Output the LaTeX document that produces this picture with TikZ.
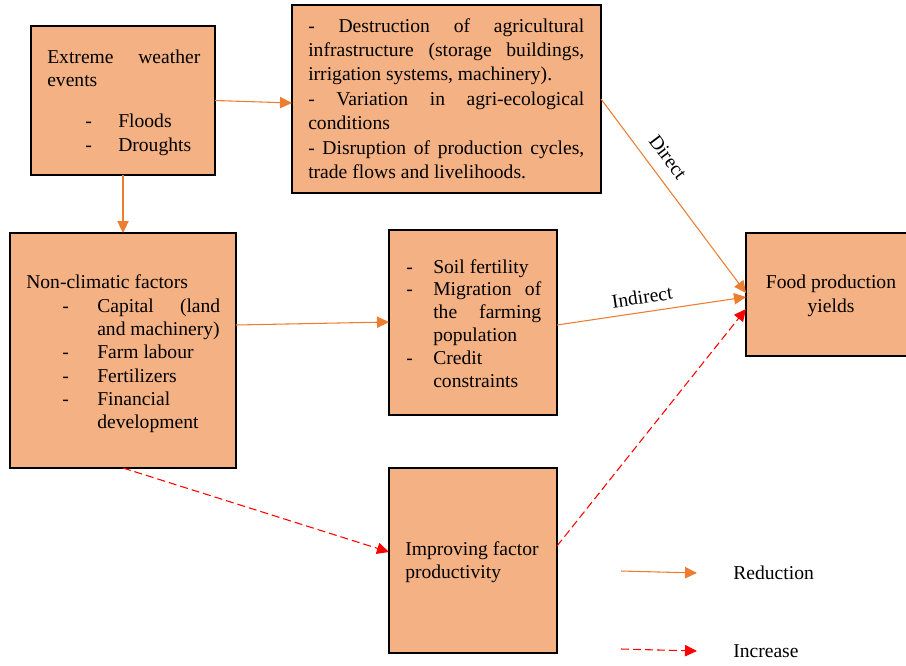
\documentclass[tikz,border=0pt]{standalone}
\usepackage{fontspec}
\setmainfont{Liberation Serif}
\usetikzlibrary{arrows.meta,calc}
\newdimen\px \px=0.75pt
\definecolor{boxfill}{HTML}{F4B183}
\definecolor{orarrow}{HTML}{ED7D31}
\definecolor{redarrow}{HTML}{FF0000}
\newcommand{\jst}[2]{\makebox[#1][s]{#2}}
\newcommand{\dsh}[1]{\makebox[#1][l]{-}}
\begin{document}
\begin{tikzpicture}[x=0.75pt,y=-0.75pt,
  box/.style={draw=black, line width=1.4pt, fill=boxfill, inner sep=0, outer sep=0, anchor=north west},
  txt/.style={anchor=base west, inner sep=0, font=\fontsize{14.7}{17.8}\selectfont},
  lbl/.style={inner sep=0, font=\fontsize{14.7}{17.8}\selectfont},
  redu/.style={draw=orarrow, line width=0.8pt, -{Triangle[length=9pt,width=8.5pt]}},
  incr/.style={draw=redarrow, line width=0.8pt, dash pattern=on 6pt off 3pt, -{Triangle[length=9pt,width=8.5pt]}}]
\useasboundingbox (0,0) rectangle (906,665);

% boxes
\node[box, minimum width=138pt, minimum height=111.75pt] (ext) at (31,26) {};
\node[box, minimum width=231.75pt, minimum height=141pt] (des) at (292,5) {};
\node[box, minimum width=121.5pt, minimum height=92.25pt] (food) at (746,233) {};
\node[box, minimum width=169.5pt, minimum height=176.25pt] (non) at (10,233) {};
\node[box, minimum width=126pt, minimum height=138.75pt] (soil) at (389,230) {};
\node[box, minimum width=126pt, minimum height=138.75pt] (imp) at (389,468) {};

% texts
\node[txt] (extT) at (47,63) {\parbox[t]{153\px}{\fontsize{14.7}{17.8}\selectfont
\jst{\linewidth}{Extreme weather}\\
events\\[13pt]
\hspace*{38\px}\dsh{33\px}Floods\\
\hspace*{38\px}\dsh{33\px}Droughts}};

\node[txt] (desT) at (308,32) {\parbox[t]{276\px}{\fontsize{14.7}{18.3}\selectfont
\jst{\linewidth}{- Destruction of agricultural}\\
\jst{\linewidth}{infrastructure (storage buildings,}\\
irrigation systems, machinery).\\
\jst{\linewidth}{- Variation in agri-ecological}\\
conditions\\
\jst{\linewidth}{- Disruption of production cycles,}\\
trade flows and livelihoods.}};

\node[txt] (nonT) at (26,288) {\parbox[t]{205\px}{\fontsize{14.7}{17.4}\selectfont
Non-climatic factors\\[1pt]
\hspace*{36\px}\dsh{35\px}\jst{123\px}{Capital (land}\\
\hspace*{71\px}and machinery)\\
\hspace*{36\px}\dsh{35\px}Farm labour\\
\hspace*{36\px}\dsh{35\px}Fertilizers\\
\hspace*{36\px}\dsh{35\px}Financial\\
\hspace*{71\px}development}};

\node[txt] (soilT) at (406,273) {\parbox[t]{140\px}{\fontsize{14.7}{17.1}\selectfont
\dsh{27\px}Soil fertility\\
\dsh{27\px}\jst{108\px}{Migration of}\\
\hspace*{27\px}\jst{108\px}{the farming}\\
\hspace*{27\px}population\\
\dsh{27\px}Credit\\
\hspace*{27\px}constraints}};

\node[txt] (impT) at (405,555) {\parbox[t]{150\px}{\fontsize{14.7}{17.25}\selectfont
Improving factor\\
productivity}};

\node[anchor=base, inner sep=0] (foodT) at (831,288) {\parbox[t]{150\px}{\fontsize{14.7}{18}\selectfont\centering
Food production\\
yields}};

% connectors
\draw[redu] (ext.east) -- ($(des.north west)+(0,98)$);
\draw[redu] (ext.south) -- (ext.south |- non.north);
\draw[redu] ($(non.north east)+(0,92)$) -- ($(soil.north west)+(0,92)$);
\draw[redu] (des.east) -- ($(food.north west)+(0,60)$);
\draw[redu] ($(soil.north east)+(0,95)$) -- ($(food.north west)+(0,64)$);
\draw[incr] ($(imp.north east)+(0,78)$) -- ($(food.north west)+(0,76)$);
\draw[incr] (non.south) -- ($(imp.north west)+(0,84)$);

% edge labels
\node[lbl, rotate=-53] (ldirect) at (668,157) {Direct};
\node[lbl, rotate=8.4] (lindirect) at (642,297) {Indirect};

% legend
\coordinate (r1) at (621,571);
\coordinate (r2) at (697,573);
\coordinate (i1) at (621,649);
\coordinate (i2) at (697,651);
\draw[redu] (r1) -- (r2);
\draw[incr] (i1) -- (i2);
\node[txt] (lred) at (733,579) {Reduction};
\node[txt] (linc) at (733,657) {Increase};
\end{tikzpicture}
\end{document}
